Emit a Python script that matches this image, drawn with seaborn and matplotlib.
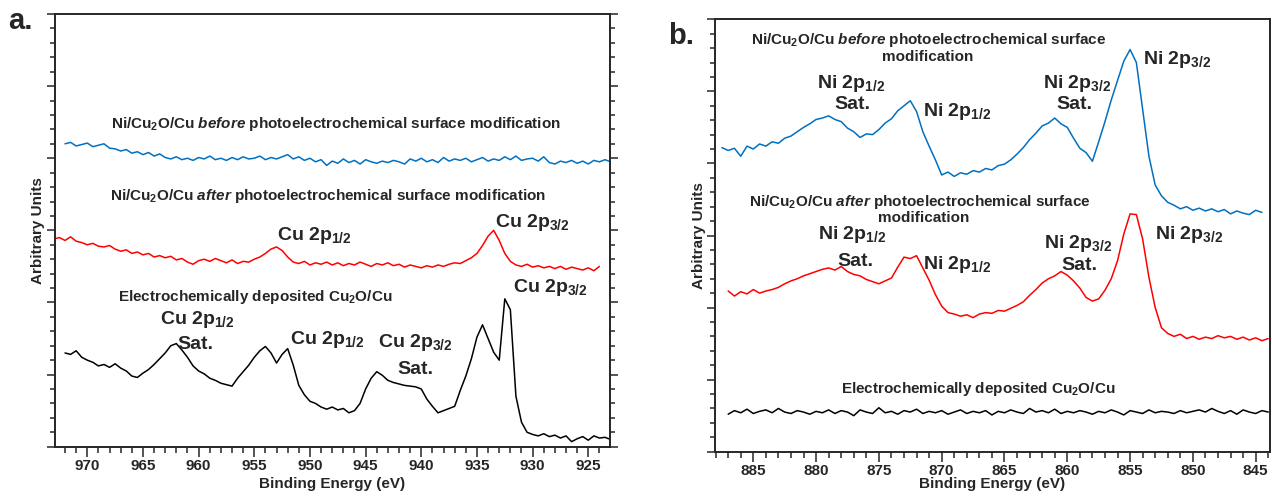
import numpy as np
import matplotlib
matplotlib.use("Agg")
import matplotlib.pyplot as plt
from matplotlib.ticker import MultipleLocator
import seaborn as sns

# ---- panel a: Cu 2p region, 0.5 eV steps, values in arbitrary offset units ----
a_step = 0.5
a_blue_start = 972.0
a_blue = [4.20, 4.22, 4.17, 4.19, 4.21, 4.16, 4.18, 4.20, 4.14, 4.13,
          4.10, 4.12, 4.07, 4.09, 4.05, 4.08, 4.03, 4.06, 4.01, 3.99,
          4.02, 3.98, 4.00, 3.97, 4.01, 3.99, 4.03, 3.98, 4.00, 3.97,
          4.01, 3.98, 4.02, 3.99, 4.00, 4.03, 3.98, 4.01, 3.99, 4.02,
          4.05, 3.99, 4.02, 3.97, 4.00, 3.95, 3.98, 3.90, 3.96, 3.93,
          3.99, 3.94, 3.97, 3.92, 3.98, 3.95, 3.93, 3.96, 3.94, 3.97,
          3.95, 3.92, 3.99, 3.96, 4.00, 3.95, 3.98, 3.94, 4.01, 3.96,
          3.99, 3.97, 4.00, 3.95, 3.98, 4.01, 3.96, 3.99, 3.97, 4.02,
          3.98, 4.03, 3.97, 3.99, 4.00, 3.96, 4.02, 3.94, 3.92, 3.96,
          3.94, 3.97, 3.93, 3.96, 3.92, 3.97, 3.95, 3.98, 3.95]
a_red_start = 973.0
a_red = [2.88, 2.90, 2.86, 2.91, 2.85, 2.83, 2.80, 2.82, 2.78, 2.77,
         2.79, 2.74, 2.71, 2.73, 2.68, 2.70, 2.66, 2.68, 2.63, 2.65,
         2.62, 2.64, 2.59, 2.61, 2.56, 2.53, 2.58, 2.60, 2.57, 2.61,
         2.58, 2.55, 2.59, 2.54, 2.57, 2.56, 2.60, 2.63, 2.68, 2.74,
         2.77, 2.72, 2.63, 2.56, 2.54, 2.57, 2.52, 2.55, 2.53, 2.56,
         2.52, 2.55, 2.51, 2.54, 2.52, 2.56, 2.53, 2.50, 2.54, 2.52,
         2.55, 2.51, 2.53, 2.49, 2.52, 2.50, 2.48, 2.51, 2.49, 2.52,
         2.50, 2.53, 2.55, 2.54, 2.58, 2.62, 2.68, 2.79, 2.92, 3.00,
         2.86, 2.68, 2.57, 2.52, 2.50, 2.53, 2.49, 2.51, 2.48, 2.50,
         2.47, 2.50, 2.46, 2.49, 2.47, 2.45, 2.48, 2.44, 2.50]
a_black_start = 972.0
a_black = [1.30, 1.28, 1.33, 1.24, 1.20, 1.17, 1.12, 1.14, 1.10, 1.15,
           1.09, 1.05, 0.98, 0.96, 1.02, 1.07, 1.14, 1.22, 1.30, 1.40,
           1.43, 1.34, 1.24, 1.12, 1.05, 1.01, 0.95, 0.92, 0.88, 0.86,
           0.84, 0.95, 1.04, 1.13, 1.24, 1.33, 1.39, 1.30, 1.16, 1.28,
           1.36, 1.13, 0.85, 0.72, 0.63, 0.60, 0.55, 0.52, 0.55, 0.51,
           0.53, 0.47, 0.50, 0.60, 0.80, 0.95, 1.04, 0.99, 0.92, 0.89,
           0.87, 0.85, 0.84, 0.83, 0.80, 0.66, 0.56, 0.47, 0.50, 0.53,
           0.56, 0.78, 0.98, 1.22, 1.52, 1.69, 1.50, 1.31, 1.20, 2.05,
           1.90, 0.70, 0.34, 0.20, 0.17, 0.15, 0.18, 0.14, 0.16, 0.12,
           0.15, 0.07, 0.11, 0.14, 0.09, 0.15, 0.12, 0.13, 0.10]

# ---- panel b: Ni 2p region ----
b_step = 0.5
b_blue_start = 887.5
b_blue = [4.22, 4.18, 4.21, 4.10, 4.24, 4.20, 4.27, 4.24, 4.30, 4.28,
          4.35, 4.38, 4.44, 4.50, 4.55, 4.61, 4.63, 4.66, 4.61, 4.58,
          4.49, 4.44, 4.36, 4.41, 4.40, 4.47, 4.56, 4.62, 4.73, 4.80,
          4.87, 4.72, 4.44, 4.24, 4.05, 3.84, 3.88, 3.82, 3.87, 3.85,
          3.90, 3.88, 3.93, 3.91, 3.97, 3.99, 4.05, 4.13, 4.22, 4.33,
          4.42, 4.52, 4.56, 4.63, 4.55, 4.50, 4.35, 4.21, 4.15, 4.03,
          4.30, 4.58, 4.88, 5.15, 5.42, 5.58, 5.40, 4.75, 4.10, 3.70,
          3.55, 3.46, 3.42, 3.37, 3.40, 3.35, 3.38, 3.34, 3.37, 3.33,
          3.36, 3.30, 3.34, 3.31, 3.29, 3.35, 3.32]
b_red_start = 887.0
b_red = [2.23, 2.16, 2.22, 2.19, 2.25, 2.20, 2.23, 2.25, 2.28, 2.33,
         2.37, 2.40, 2.44, 2.47, 2.50, 2.53, 2.55, 2.52, 2.57, 2.50,
         2.46, 2.44, 2.39, 2.36, 2.33, 2.37, 2.41, 2.56, 2.70, 2.68,
         2.72, 2.55, 2.38, 2.18, 2.02, 1.93, 1.91, 1.88, 1.90, 1.86,
         1.91, 1.93, 1.92, 1.96, 1.95, 1.99, 2.03, 2.08, 2.17, 2.25,
         2.34, 2.40, 2.44, 2.50, 2.45, 2.37, 2.27, 2.14, 2.09, 2.12,
         2.24, 2.40, 2.65, 3.02, 3.30, 3.29, 2.95, 2.42, 2.00, 1.72,
         1.64, 1.60, 1.63, 1.57, 1.60, 1.56, 1.59, 1.57, 1.61, 1.58,
         1.60, 1.56, 1.59, 1.55, 1.58, 1.54, 1.57]
b_black_start = 887.0
b_black = [0.52, 0.57, 0.54, 0.59, 0.53, 0.56, 0.58, 0.54, 0.60, 0.55,
           0.53, 0.57, 0.55, 0.52, 0.56, 0.54, 0.58, 0.53, 0.57, 0.55,
           0.50, 0.58, 0.55, 0.53, 0.61, 0.54, 0.56, 0.52, 0.57, 0.55,
           0.59, 0.53, 0.56, 0.54, 0.57, 0.52, 0.55, 0.58, 0.53, 0.56,
           0.54, 0.57, 0.51, 0.56, 0.54, 0.58, 0.55, 0.53, 0.60, 0.55,
           0.57, 0.54, 0.59, 0.53, 0.56, 0.54, 0.57, 0.55, 0.52, 0.56,
           0.54, 0.58, 0.55, 0.51, 0.57, 0.55, 0.53, 0.58, 0.54, 0.56,
           0.55, 0.53, 0.57, 0.54, 0.56, 0.58, 0.55, 0.60, 0.56, 0.53,
           0.57, 0.52, 0.58, 0.55, 0.53, 0.57, 0.55]

BLUE = "#0070C0"
RED = "#FF0000"
BLACK = "#000000"

sns.set_style("ticks")
plt.rcParams.update({
    "font.family": ["Liberation Sans", "DejaVu Sans"],
    "font.weight": "bold",
    "mathtext.fontset": "custom",
    "mathtext.rm": "Liberation Sans",
    "mathtext.it": "Liberation Sans:italic:bold",
    "mathtext.bf": "Liberation Sans:bold",
    "mathtext.default": "regular",
    "axes.linewidth": 1.4,
    "xtick.major.width": 1.1, "xtick.minor.width": 1.1,
    "ytick.major.width": 1.1, "ytick.minor.width": 1.1,
    "xtick.major.size": 7, "xtick.minor.size": 4.5,
    "ytick.major.size": 6, "ytick.minor.size": 3.5,
    "xtick.direction": "out", "ytick.direction": "out",
    "xtick.labelsize": 11,
})


def energies(start, step, vals):
    return np.linspace(start, start - step * (len(vals) - 1), len(vals))


def draw(ax, start, step, vals, color):
    sns.lineplot(x=energies(start, step, vals), y=vals, ax=ax, color=color,
                 linewidth=1.1, estimator=None, sort=False)


def small(ax, x, y, s):
    ax.text(x, y - 0.075, s, ha="center", va="baseline", fontsize=11, fontweight="bold")


def peak(ax, x, y, s, ha="left"):
    ax.text(x, y - 0.10, s, ha=ha, va="baseline", fontsize=14, fontweight="bold")


def setup(ax, xlim, right_ticks):
    ax.set_xlim(*xlim)
    ax.set_ylim(0, 6)
    ax.xaxis.set_major_locator(MultipleLocator(5))
    ax.xaxis.set_minor_locator(MultipleLocator(1))
    ax.yaxis.set_major_locator(MultipleLocator(1))
    ax.yaxis.set_minor_locator(MultipleLocator(0.2))
    ax.tick_params(axis="y", which="both", left=True, right=right_ticks, labelleft=False)
    ax.tick_params(axis="x", which="both", bottom=True, top=False, pad=2)
    ax.set_xlabel("Binding Energy (eV)", fontsize=11, fontweight="bold")
    ax.set_ylabel("Arbitrary Units", fontsize=11, fontweight="bold")
    for s in ax.spines.values():
        s.set_visible(True)


fig = plt.figure(figsize=(12.72, 4.98), dpi=100)
ax_a = fig.add_axes([55 / 1272, 1 - 446.7 / 498, 555 / 1272, 432.7 / 498])
ax_b = fig.add_axes([714.6 / 1272, 1 - 451.7 / 498, 555.4 / 1272, 432.4 / 498])

# panel a
draw(ax_a, a_blue_start, a_step, a_blue, BLUE)
draw(ax_a, a_red_start, a_step, a_red, RED)
draw(ax_a, a_black_start, a_step, a_black, BLACK)
setup(ax_a, (972.9, 923.05), True)
ax_a.xaxis.set_label_coords(0.5, -0.07)
ax_a.yaxis.set_label_coords(-0.018, 0.5)

small(ax_a, 947.7, 4.49, r"Ni/Cu$_2$O/Cu $\mathit{before}$ photoelectrochemical surface modification")
small(ax_a, 948.4, 3.49, r"Ni/Cu$_2$O/Cu $\mathit{after}$ photoelectrochemical surface modification")
peak(ax_a, 953.0, 2.96, r"Cu 2p$_{1/2}$")
peak(ax_a, 933.4, 3.14, r"Cu 2p$_{3/2}$")
small(ax_a, 954.9, 2.10, r"Electrochemically deposited Cu$_2$O/Cu")
peak(ax_a, 960.1, 1.80, r"Cu 2p$_{1/2}$", ha="center")
peak(ax_a, 960.3, 1.46, "Sat.", ha="center")
peak(ax_a, 951.8, 1.53, r"Cu 2p$_{1/2}$")
peak(ax_a, 940.5, 1.48, r"Cu 2p$_{3/2}$", ha="center")
peak(ax_a, 940.5, 1.11, "Sat.", ha="center")
peak(ax_a, 931.8, 2.24, r"Cu 2p$_{3/2}$")

# panel b
draw(ax_b, b_blue_start, b_step, b_blue, BLUE)
draw(ax_b, b_red_start, b_step, b_red, RED)
draw(ax_b, b_black_start, b_step, b_black, BLACK)
setup(ax_b, (888.08, 843.86), False)
ax_b.xaxis.set_label_coords(0.5, -0.0585)
ax_b.yaxis.set_label_coords(-0.0146, 0.5)

small(ax_b, 871.0, 5.73, r"Ni/Cu$_2$O/Cu $\mathit{before}$ photoelectrochemical surface")
small(ax_b, 871.1, 5.49, "modification")
peak(ax_b, 877.2, 5.15, r"Ni 2p$_{1/2}$", ha="center")
peak(ax_b, 877.1, 4.86, "Sat.", ha="center")
peak(ax_b, 871.5, 4.76, r"Ni 2p$_{1/2}$")
peak(ax_b, 859.2, 5.15, r"Ni 2p$_{3/2}$", ha="center")
peak(ax_b, 859.4, 4.86, "Sat.", ha="center")
peak(ax_b, 854.0, 5.48, r"Ni 2p$_{3/2}$")
small(ax_b, 871.7, 3.49, r"Ni/Cu$_2$O/Cu $\mathit{after}$ photoelectrochemical surface")
small(ax_b, 871.4, 3.26, "modification")
peak(ax_b, 877.1, 3.05, r"Ni 2p$_{1/2}$", ha="center")
peak(ax_b, 876.9, 2.68, "Sat.", ha="center")
peak(ax_b, 871.5, 2.64, r"Ni 2p$_{1/2}$")
peak(ax_b, 859.1, 2.93, r"Ni 2p$_{3/2}$", ha="center")
peak(ax_b, 859.0, 2.62, "Sat.", ha="center")
peak(ax_b, 853.0, 3.05, r"Ni 2p$_{3/2}$")
small(ax_b, 867.1, 0.89, r"Electrochemically deposited Cu$_2$O/Cu")

fig.text(8 / 1272, 1 - 21 / 498, "a.", fontsize=21, fontweight="bold", va="center")
fig.text(668 / 1272, 1 - 36 / 498, "b.", fontsize=21, fontweight="bold", va="center")

fig.savefig("out.png", dpi=100)
